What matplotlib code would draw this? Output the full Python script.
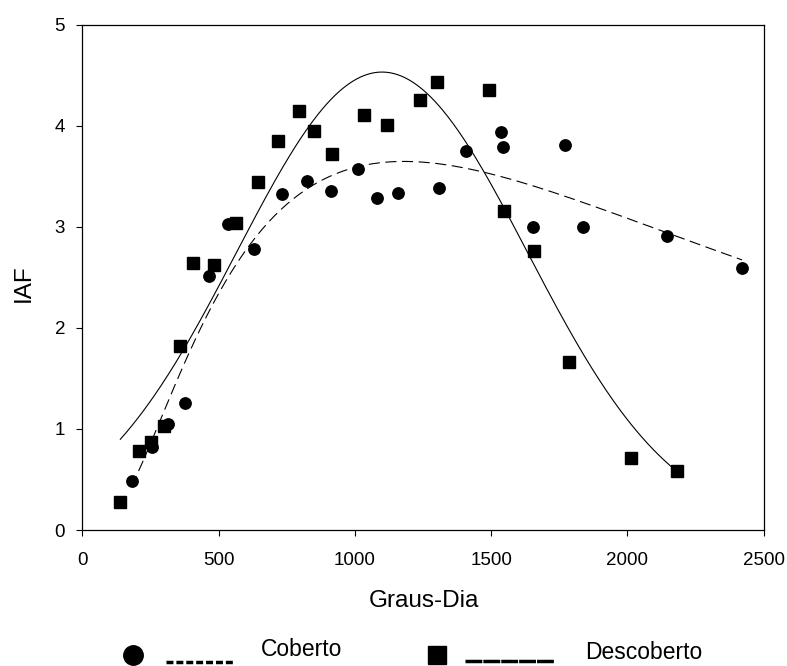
import numpy as np
import matplotlib
matplotlib.use("Agg")
import matplotlib.pyplot as plt
from matplotlib.lines import Line2D

plt.rcParams["font.family"] = ["Liberation Sans", "DejaVu Sans"]

# Coberto (circles, dashed log-normal fit)
cob_gd = [180, 256, 315, 377, 465, 535, 630, 731, 824, 913, 1010, 1080,
          1157, 1308, 1406, 1537, 1543, 1652, 1771, 1837, 2146, 2421]
cob_iaf = [0.48, 0.82, 1.05, 1.26, 2.51, 3.03, 2.78, 3.32, 3.45, 3.35, 3.57, 3.28,
           3.33, 3.38, 3.75, 3.94, 3.79, 3.00, 3.81, 3.00, 2.91, 2.59]

# Descoberto (squares, solid gaussian fit)
desc_gd = [139, 207, 251, 300, 358, 404, 483, 563, 644, 716, 793, 851, 916,
           1034, 1119, 1239, 1301, 1492, 1548, 1657, 1786, 2014, 2182]
desc_iaf = [0.28, 0.78, 0.87, 1.03, 1.82, 2.64, 2.62, 3.04, 3.44, 3.85, 4.14, 3.95, 3.72,
            4.10, 4.01, 4.25, 4.43, 4.35, 3.16, 2.76, 1.66, 0.71, 0.58]


def gauss(x, a, x0, b):
    return a * np.exp(-0.5 * ((x - x0) / b) ** 2)


def lognorm(x, a, x0, b):
    return a * np.exp(-0.5 * (np.log(x / x0) / b) ** 2)


def fit(f, x, y, p0, n_iter=300):
    """Small Levenberg-Marquardt least squares, no scipy here."""
    x, y = np.asarray(x, float), np.asarray(y, float)
    p = np.array(p0, float)
    lam = 1e-3
    for _ in range(n_iter):
        r = y - f(x, *p)
        J = np.empty((len(x), len(p)))
        for j in range(len(p)):
            dp = np.zeros_like(p)
            dp[j] = 1e-6 * max(abs(p[j]), 1.0)
            J[:, j] = (f(x, *(p + dp)) - f(x, *p)) / dp[j]
        A = J.T @ J
        step = np.linalg.solve(A + lam * np.diag(np.diag(A)), J.T @ r)
        if np.sum((y - f(x, *(p + step))) ** 2) < np.sum(r ** 2):
            p += step
            lam /= 10
        else:
            lam *= 10
    return p


p_desc = fit(gauss, desc_gd, desc_iaf, [4.5, 1100, 500])
p_cob = fit(lognorm, cob_gd, cob_iaf, [3.6, 1200, 0.9])

fig = plt.figure(figsize=(7.87, 6.66), dpi=100)
ax = fig.add_axes([0.1048, 0.2042, 0.8654, 0.759])

xs = np.linspace(min(desc_gd), max(desc_gd), 300)
ax.plot(xs, gauss(xs, *p_desc), color="black", lw=0.8)
xc = np.linspace(min(cob_gd), max(cob_gd), 300)
ax.plot(xc, lognorm(xc, *p_cob), color="black", lw=0.8, linestyle=(0, (10, 5)))

ax.plot(cob_gd, cob_iaf, "o", color="black", ms=8.2, mec="black")
ax.plot(desc_gd, desc_iaf, "s", color="black", ms=8.3, mec="black")

ax.set_xlim(0, 2500)
ax.set_ylim(0, 5)
ax.set_xticks([0, 500, 1000, 1500, 2000, 2500])
ax.set_yticks([0, 1, 2, 3, 4, 5])
ax.tick_params(direction="out", length=4.5, width=0.8, labelsize=13.5)
ax.tick_params(axis="x", pad=11)
ax.tick_params(axis="y", pad=8)
for s in ax.spines.values():
    s.set_linewidth(0.9)

ax.set_xlabel("Graus-Dia", fontsize=17.5, va="center")
ax.xaxis.set_label_coords(0.502, -0.1405)
ax.set_ylabel("IAF", fontsize=17.5, va="center")
ax.yaxis.set_label_coords(-0.0859, 0.489)

# legend row below the axis label (figure pixel coords -> fraction)
W, H = 787, 666


def fx(px):
    return px / W


def fy(py):
    return 1 - py / H


tf = fig.transFigure
fig.add_artist(Line2D([fx(132.5)], [fy(655)], marker="o", ms=14, color="black",
                      transform=tf))
fig.add_artist(Line2D([fx(166), fx(233)], [fy(662)] * 2, color="black", lw=2.5,
                      linestyle=(0, (2.0, 0.85)), transform=tf))
fig.text(fx(260.5), fy(650), "Coberto", fontsize=16.5, va="center")
fig.add_artist(Line2D([fx(437)], [fy(654.5)], marker="s", ms=13.5, color="black",
                      transform=tf))
fig.add_artist(Line2D([fx(465), fx(554)], [fy(661)] * 2, color="black", lw=2.5,
                      linestyle=(0, (4.85, 0.3)), transform=tf))
fig.text(fx(585), fy(652.5), "Descoberto", fontsize=16.5, va="center")

fig.savefig("out.png", dpi=100)
